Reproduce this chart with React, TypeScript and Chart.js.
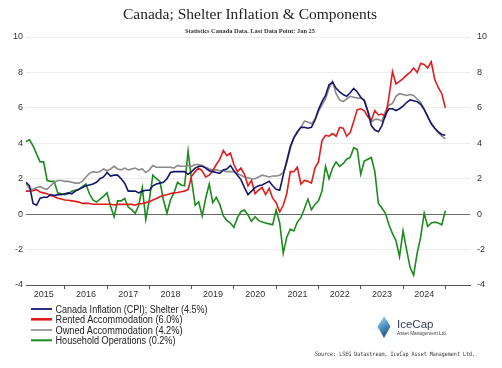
import React, { useEffect, useRef } from "react";
import { Chart, registerables } from "chart.js";

Chart.register(...registerables);

// Monthly data, Feb 2015 (index 0) .. Jan 2025 (index 119), y/y % change
const YEARS = ["2015", "2016", "2017", "2018", "2019", "2020", "2021", "2022", "2023", "2024"];
const Y_MIN = -4;
const Y_MAX = 10;

const SERIES_NAMES = [
  "Canada Inflation (CPI); Shelter (4.5%)",
  "Rented Accommodation (6.0%)",
  "Owned Accommodation (4.2%)",
  "Household Operations (0.2%)",
];

const SHELTER = [
  1.8, 1.6, 0.6, 0.5, 0.9, 0.95, 0.95, 1.1, 1.05, 1.1,
  1.1, 1.15, 1.2, 1.15, 1.3, 1.4, 1.5, 1.6, 1.65, 1.7,
  1.8, 2.0, 2.1, 2.35, 2.15, 2.2, 2.2, 2.0, 1.75, 1.3,
  1.3, 1.3, 1.2, 1.3, 1.35, 1.35, 1.6, 1.7, 1.75, 1.8,
  2.0, 2.35, 2.4, 2.4, 2.4, 2.4, 2.25, 2.4, 2.6, 2.7,
  2.7, 2.6, 2.45, 2.4, 2.35, 2.3, 2.5, 2.55, 2.75, 2.45,
  2.2, 1.95, 1.5, 1.1, 1.3, 1.5, 1.6, 1.65, 1.75, 1.85,
  1.6, 1.4, 1.35, 2.2, 3.0, 3.8, 4.3, 4.65, 4.9, 4.9,
  4.85, 4.9, 5.3, 5.9, 6.35, 6.7, 7.3, 7.45, 7.1, 6.9,
  6.75, 6.65, 6.85, 7.1, 6.9, 6.6, 6.4, 5.8, 5.0, 4.75,
  4.65, 5.0, 5.6, 5.95, 5.95, 5.85, 5.95, 6.1, 6.3, 6.45,
  6.4, 6.35, 6.2, 5.9, 5.5, 5.1, 4.85, 4.65, 4.5, 4.45,
];

const RENTED = [
  1.3, 1.3, 1.32, 1.38, 1.25, 1.2, 1.15, 1.05, 1.0, 0.9,
  0.85, 0.8, 0.78, 0.75, 0.72, 0.68, 0.6, 0.62, 0.6, 0.56,
  0.56, 0.56, 0.56, 0.56, 0.56, 0.52, 0.55, 0.55, 0.56, 0.55,
  0.55, 0.5, 0.58, 0.6, 0.65, 0.7, 0.8, 0.88, 0.98, 1.05,
  1.1, 1.17, 1.2, 1.22, 1.26, 1.3, 1.4, 2.15, 2.4, 2.6,
  2.45, 2.1, 2.2, 2.45, 2.8, 3.1, 3.6, 3.3, 3.45, 2.8,
  2.4, 2.6, 2.25, 1.6, 1.9, 1.15, 1.35, 1.5, 1.1, 1.45,
  0.9, 0.65, 0.13, 0.5, 1.15, 2.4, 2.4, 2.65, 1.7, 1.9,
  1.85, 1.75, 2.6, 2.95, 4.15, 4.45, 4.4, 4.55, 4.4, 4.9,
  4.85, 4.4, 4.6, 5.25, 5.9, 5.95, 5.85, 5.5, 5.3, 5.85,
  5.6, 5.65, 5.5, 6.6, 8.05, 7.35, 7.5, 7.65, 7.85, 8.0,
  8.25, 8.0, 8.5, 8.45, 8.25, 8.6, 7.6, 7.15, 6.8, 6.0,
];

const OWNED = [
  1.7, 1.45, 1.4, 1.5, 1.55, 1.45, 1.4, 1.6, 1.8, 1.9,
  1.9, 1.85, 1.85, 1.8, 1.75, 1.75, 1.85, 2.1, 2.3, 2.4,
  2.35, 2.4, 2.55, 2.45, 2.55, 2.7, 2.55, 2.5, 2.6, 2.5,
  2.55, 2.6, 2.5, 2.55, 2.35, 2.5, 2.75, 2.65, 2.65, 2.65,
  2.65, 2.65, 2.6, 2.75, 2.7, 2.7, 2.75, 2.7, 2.8, 2.8,
  2.75, 2.65, 2.55, 2.5, 2.5, 2.45, 2.45, 2.4, 2.4, 2.4,
  2.3, 2.2, 2.1, 2.05, 2.0, 2.0, 2.1, 2.2, 2.15, 2.1,
  2.15, 2.15, 2.2, 2.35, 2.9, 3.7, 4.3, 4.6, 4.9, 5.25,
  5.2, 5.1, 5.35, 5.8, 6.15, 6.5, 7.1, 7.5, 6.8, 6.45,
  6.35, 6.5, 6.65, 6.6, 6.55, 6.55, 6.45, 5.85, 5.2, 5.35,
  5.35, 5.25, 5.8, 6.15, 6.25, 6.65, 6.8, 6.75, 6.7, 6.75,
  6.7, 6.5, 6.3, 5.95, 5.5, 5.15, 4.85, 4.6, 4.4, 4.25,
];

const HOUSEHOLD = [
  4.1, 4.2, 3.85, 3.4, 2.95, 2.95, 1.9, 1.85, 1.85, 1.2,
  1.15, 1.1, 1.15, 1.3, 1.35, 1.4, 1.55, 1.7, 1.15, 0.8,
  0.68, 0.85, 1.0, 1.2, 0.45, -0.15, 0.75, 0.75, 0.88, 0.4,
  0.25, 0.05, 0.5, 1.5, -0.3, 0.8, 2.2, 2.0, 1.85, 0.8,
  0.05, 0.8, 1.2, 1.8, 1.65, 1.6, 3.55, 1.9, 0.5, 0.7,
  -0.1, 0.9, 1.7, 0.65, 0.95, 0.55, -0.1, -0.35, -0.5, -0.75,
  -0.2, 0.15, 0.23, -0.06, -0.4, -0.15, -0.35, -0.45, -0.5, -0.55,
  -0.6, 0.23, -0.5, -2.2, -1.3, -0.85, -0.95, -0.45, -0.2, 0.3,
  0.85, 0.25, 0.55, 0.75, 1.3, 2.7, 2.0, 2.6, 2.95, 2.7,
  2.85, 3.1, 3.2, 3.75, 3.65, 2.25, 3.0, 3.1, 3.2, 2.4,
  0.6, 0.35, 0.05, -0.6, -1.1, -1.5, -2.4, -0.95, -2.0, -3.0,
  -3.45, -2.2, -1.3, 0.05, -0.7, -0.5, -0.45, -0.5, -0.6, 0.2,
];

const COLORS = ["#14166b", "#e21b1b", "#8a8a8a", "#1c8a1c"];
const LEGEND_WIDTHS = [152, 127, 127, 120];
const LEGEND_LINE_W = [1.8, 2.6, 1.6, 2.0];

export default function App() {
  const ref = useRef<HTMLCanvasElement>(null);

  useEffect(() => {
    document.body.style.margin = "0";
    const canvas = ref.current;
    if (!canvas) return;
    const toPts = (arr: number[]) => arr.map((v, i) => ({ x: i, y: v }));
    const series = [SHELTER, RENTED, OWNED, HOUSEHOLD];
    const tickFont = { family: "'Liberation Sans', Arial, sans-serif", size: 9 };

    const chart = new Chart(canvas, {
      type: "line",
      data: {
        datasets: series.map((s, k) => ({
          label: SERIES_NAMES[k],
          data: toPts(s),
          borderColor: COLORS[k],
          backgroundColor: COLORS[k],
          borderWidth: 1.6,
          pointRadius: 0,
          tension: 0,
          fill: false,
        })),
      },
      options: {
        animation: false,
        responsive: false,
        maintainAspectRatio: false,
        layout: { padding: { top: 37, left: 0, right: 0, bottom: 0 } },
        plugins: {
          legend: { display: false },
          tooltip: { enabled: false },
          title: { display: false },
        },
        scales: {
          x: {
            type: "linear",
            min: 0,
            max: 126,
            afterBuildTicks: (s: any) => {
              s.ticks = YEARS.map((_, k) => ({ value: 11 + 12 * k }));
            },
            afterFit: (s: any) => {
              s.height = 83;
            },
            ticks: {
              autoSkip: false,
              maxRotation: 0,
              minRotation: 0,
              labelOffset: -21,
              padding: 0,
              color: "#333",
              font: tickFont,
              callback: (_v: any, i: number) => YEARS[i],
            },
            grid: { drawOnChartArea: false, drawTicks: true, tickLength: 4, color: "#555" },
            border: { display: true, color: "#555", width: 1 },
          },
          y: {
            position: "left",
            min: Y_MIN,
            max: Y_MAX,
            afterFit: (s: any) => {
              s.width = 26;
            },
            ticks: { stepSize: 2, padding: 3, color: "#333", font: tickFont },
            grid: {
              drawTicks: false,
              color: (c: any) =>
                c.tick && c.tick.value === 0 ? "#6b6b6b" : c.tick && c.tick.value === Y_MIN ? "#555" : "#ececec",
            },
            border: { display: false },
          },
          y1: {
            position: "right",
            min: Y_MIN,
            max: Y_MAX,
            afterFit: (s: any) => {
              s.width = 32;
            },
            ticks: { stepSize: 2, padding: 7, color: "#333", font: tickFont },
            grid: { display: false, drawTicks: false },
            border: { display: false },
          },
        },
      } as any,
    });
    return () => chart.destroy();
  }, []);

  const legendY = [309, 319.3, 330, 340.3];

  return (
    <div style={{ position: "absolute", left: 0, top: 0, width: 502, height: 368, background: "#fff" }}>
      <canvas ref={ref} width={502} height={368} style={{ position: "absolute", left: 0, top: 0 }} />
      <svg
        width={502}
        height={368}
        style={{ position: "absolute", left: 0, top: 0, pointerEvents: "none" }}
      >
        <defs>
          <linearGradient id="dia" x1="0" y1="0" x2="0.4" y2="1">
            <stop offset="0" stopColor="#d7ecf7" />
            <stop offset="0.45" stopColor="#5fa3cf" />
            <stop offset="1" stopColor="#1d5585" />
          </linearGradient>
          <linearGradient id="glow" x1="0" y1="0" x2="1" y2="0">
            <stop offset="0" stopColor="#cfe6f4" stopOpacity="0" />
            <stop offset="1" stopColor="#9cc9e6" stopOpacity="0.9" />
          </linearGradient>
        </defs>
        <text
          x={250}
          y={18.5}
          textAnchor="middle"
          textLength={254}
          lengthAdjust="spacingAndGlyphs"
          fontFamily="'Liberation Serif', 'DejaVu Serif', serif"
          fontSize={14.5}
          fill="#222"
        >
          Canada; Shelter Inflation &amp; Components
        </text>
        <text
          x={250}
          y={32.5}
          textAnchor="middle"
          textLength={130}
          lengthAdjust="spacingAndGlyphs"
          fontFamily="'Liberation Serif', serif"
          fontWeight="bold"
          fontSize={6}
          fill="#333"
        >
          Statistics Canada Data. Last Data Point: Jan 25
        </text>
        {SERIES_NAMES.map((name, k) => (
          <g key={name}>
            <line x1={31} x2={52} y1={legendY[k]} y2={legendY[k]} stroke={COLORS[k]} strokeWidth={LEGEND_LINE_W[k]} />
            <text
              x={55.5}
              y={legendY[k] + 3.6}
              textLength={LEGEND_WIDTHS[k]}
              lengthAdjust="spacingAndGlyphs"
              fontFamily="'Liberation Sans', Arial, sans-serif"
              fontSize={10}
              fill="#222"
            >
              {name}
            </text>
          </g>
        ))}
        <rect x={371} y={328.2} width={14} height={1.4} fill="url(#glow)" />
        <polygon points="384,316 390.5,326.5 384,338 377.5,326.5" fill="url(#dia)" />
        <text
          x={397}
          y={328}
          textLength={36.5}
          lengthAdjust="spacingAndGlyphs"
          fontFamily="'Liberation Sans', Arial, sans-serif"
          fontSize={11.5}
          fill="#34405c"
        >
          IceCap
        </text>
        <text
          x={397}
          y={334.6}
          textLength={50}
          lengthAdjust="spacingAndGlyphs"
          fontFamily="'Liberation Sans', Arial, sans-serif"
          fontSize={4.6}
          fill="#444"
        >
          Asset Management Ltd.
        </text>
        <text
          x={315}
          y={355.5}
          textLength={160}
          lengthAdjust="spacingAndGlyphs"
          fontFamily="'DejaVu Sans Mono', monospace"
          fontSize={6}
          fill="#333"
        >
          Source: LSEG Datastream, IceCap Asset Management Ltd.
        </text>
      </svg>
    </div>
  );
}
